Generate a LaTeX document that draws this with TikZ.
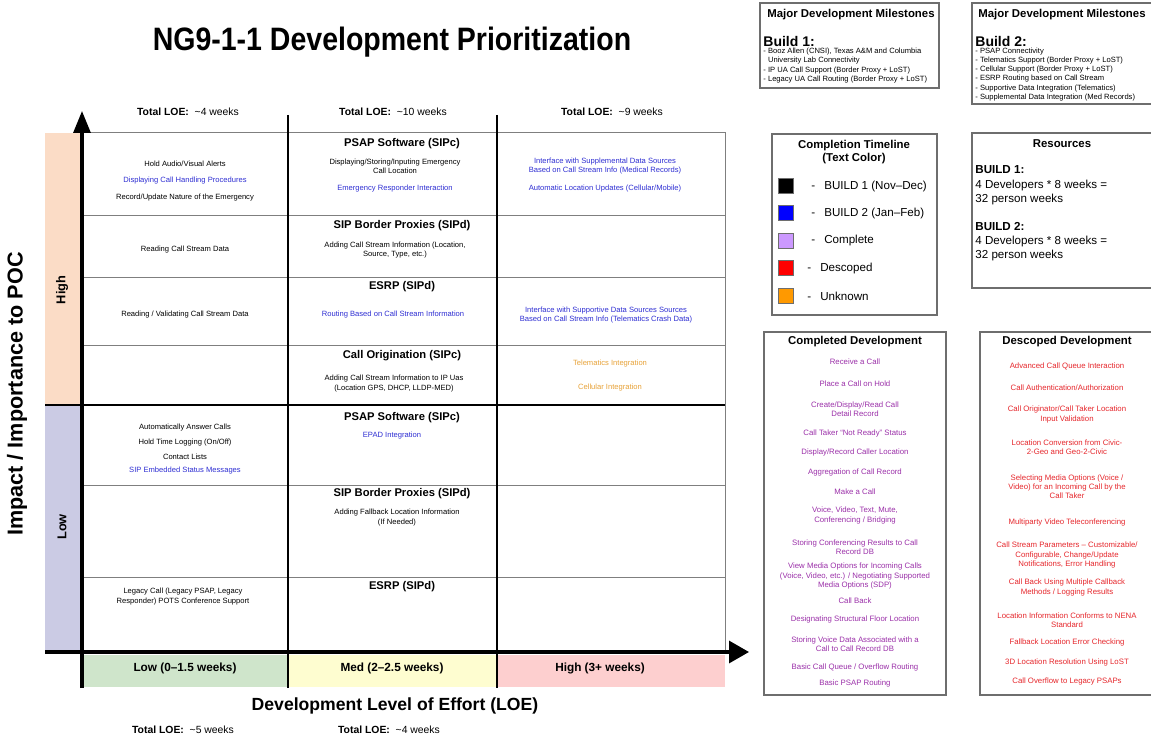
\documentclass[tikz,border=0pt]{standalone}
\usepackage{fontspec}
\setmainfont{Liberation Sans}
\newfontfamily\TitleFam[FakeStretch=0.88]{Liberation Sans}
\usetikzlibrary{arrows.meta}

\newcommand{\TitleF}{\TitleFam\fontsize{16.2pt}{18pt}\selectfont\bfseries}
\newcommand{\AxisF}{\fontsize{8.8pt}{10pt}\selectfont\bfseries}
\newcommand{\LoeF}{\fontsize{5.2pt}{6pt}\selectfont}
\newcommand{\HeadF}{\fontsize{5.6pt}{6.5pt}\selectfont\bfseries}
\newcommand{\CellF}{\fontsize{3.8pt}{4.7pt}\selectfont}
\newcommand{\BarF}{\fontsize{5.9pt}{7pt}\selectfont\bfseries}
\newcommand{\BoxF}{\fontsize{5.7pt}{6.1pt}\selectfont\bfseries}
\newcommand{\KeyF}{\fontsize{5.8pt}{7pt}\selectfont}
\newcommand{\ListF}{\fontsize{3.9pt}{4.6pt}\selectfont}
\newcommand{\Loe}[1]{\textbf{Total LOE:}~~\textasciitilde#1 weeks}

\definecolor{blueTxt}{HTML}{2E2ED2}
\definecolor{purpleTxt}{HTML}{9A2FA8}
\definecolor{redTxt}{HTML}{E5262B}
\definecolor{orangeTxt}{HTML}{E7A238}
\definecolor{highBar}{HTML}{FBDCC6}
\definecolor{lowBar}{HTML}{CBCBE4}
\definecolor{lowLoe}{HTML}{CFE5CB}
\definecolor{medLoe}{HTML}{FEFDD0}
\definecolor{highLoe}{HTML}{FDCFCF}
\definecolor{gridGray}{HTML}{7F7F7F}
\definecolor{frameGray}{HTML}{6E6E6E}
\definecolor{keyBlue}{HTML}{0000FF}
\definecolor{keyLilac}{HTML}{CC99FF}
\definecolor{keyRed}{HTML}{FF0000}
\definecolor{keyOrange}{HTML}{FF9900}

\tikzset{
    >=Stealth,
    txt/.style={inner sep=0pt,align=center,font=\CellF},
    head/.style={inner sep=0pt,font=\HeadF},
    loe/.style={inner sep=0pt,font=\LoeF},
    barlabel/.style={inner sep=0pt,font=\BarF},
    boxtitle/.style={inner sep=0pt,align=center,font=\BoxF},
    keylabel/.style={inner sep=0pt,anchor=west,font=\KeyF},
    reslabel/.style={inner sep=0pt,anchor=west,font=\KeyF},
    mitem/.style={inner sep=0pt,anchor=west,font=\CellF},
    done/.style={inner sep=0pt,align=center,font=\ListF,text=purpleTxt},
    dropped/.style={inner sep=0pt,align=center,font=\ListF,text=redTxt},
    axisline/.style={line width=1.6pt,-{Triangle[length=11pt,width=8.5pt]}},
    divider/.style={line width=1.4pt},
    gridline/.style={draw=gridGray,line width=0.5pt},
    boxframe/.style={draw=frameGray,line width=0.6pt},
    swatch/.style={draw=frameGray,line width=0.4pt},
}

\begin{document}
\begin{tikzpicture}[x=0.5pt,y=-0.5pt]
\useasboundingbox (0,0) rectangle (1151,738);

% title and column totals
\node[inner sep=0pt,anchor=base,font=\TitleF] (title) at (392,51) {NG9-1-1 Development Prioritization};
\node[loe] (loe1) at (188,112) {\Loe{4}};
\node[loe] (loe2) at (393,112) {\Loe{10}};
\node[loe] (loe3) at (612,112) {\Loe{9}};
\node[loe] (loe4) at (183,730) {\Loe{5}};
\node[loe] (loe5) at (389,730) {\Loe{4}};

% side and bottom bands
\fill[highBar] (45,133) rectangle (80,405);
\fill[lowBar] (45,405) rectangle (80,650);
\fill[lowLoe] (82,655) rectangle (288,687);
\fill[medLoe] (288,655) rectangle (497,687);
\fill[highLoe] (497,655) rectangle (725,687);
\node[barlabel,font=\fontsize{6.4pt}{7pt}\selectfont\bfseries,rotate=90] (hi) at (62,290) {High};
\node[barlabel,font=\fontsize{6.4pt}{7pt}\selectfont\bfseries,rotate=90] (lo) at (62,527) {Low};
\node[barlabel] (effLow) at (185,668) {Low (0--1.5 weeks)};
\node[barlabel] (effMed) at (392,668) {Med (2--2.5 weeks)};
\node[barlabel] (effHigh) at (600,668) {High (3+ weeks)};
\node[inner sep=0pt,font=\fontsize{10.8pt}{12pt}\selectfont\bfseries,rotate=90] (ytitle) at (17,394) {Impact / Importance to POC};
\node[inner sep=0pt,font=\AxisF] (xtitle) at (395,706) {Development Level of Effort (LOE)};

% grid
\draw[gridline] (82,133) rectangle (725,650);
\foreach \y in {215,277,345,485,577}
    \draw[gridline] (82,\y) -- (725,\y);
\draw[divider] (288,115) -- (288,688);
\draw[divider] (497,115) -- (497,688);
\draw[divider] (45,405) -- (725,405);

% axes
\coordinate (yBot) at (82,688);
\coordinate (yTop) at (82,111);
\coordinate (xLeft) at (45,652);
\coordinate (xRight) at (749,652);
\draw[axisline] (yBot) -- (yTop);
\draw[axisline,-{Triangle[length=10pt,width=11pt]}] (xLeft) -- (xRight);

% high impact cells
\node[txt] (a1) at (185,164) {Hold Audio/Visual Alerts};
\node[txt,text=blueTxt] (a2) at (185,181) {Displaying Call Handling Procedures};
\node[txt] (a3) at (185,198) {Record/Update Nature of the Emergency};
\node[txt] (a4) at (185,250) {Reading Call Stream Data};
\node[txt] (a5) at (185,315) {Reading / Validating Call Stream Data};

\node[head] (psapA) at (402,144) {PSAP Software (SIPc)};
\node[txt] (b1) at (395,166.5) {Displaying/Storing/Inputing Emergency\\Call Location};
\node[txt,text=blueTxt] (b2) at (395,189) {Emergency Responder Interaction};
\node[head] (sbpA) at (402,226) {SIP Border Proxies (SIPd)};
\node[txt] (b3) at (395,250) {Adding Call Stream Information (Location,\\Source, Type, etc.)};
\node[head] (esrpA) at (402,287) {ESRP (SIPd)};
\node[txt,text=blueTxt] (b4) at (393,315) {Routing Based on Call Stream Information};
\node[head] (coA) at (402,356) {Call Origination (SIPc)};
\node[txt] (b5) at (394,383.5) {Adding Call Stream Information to IP Uas\\(Location GPS, DHCP, LLDP-MED)};

\node[txt,text=blueTxt] (c1) at (605,166) {Interface with Supplemental Data Sources\\Based on Call Stream Info (Medical Records)};
\node[txt,text=blueTxt] (c2) at (605,189) {Automatic Location Updates (Cellular/Mobile)};
\node[txt,text=blueTxt] (c3) at (606,315) {Interface with Supportive Data Sources Sources\\Based on Call Stream Info (Telematics Crash Data)};
\node[txt,text=orangeTxt] (c4) at (610,364) {Telematics Integration};
\node[txt,text=orangeTxt] (c5) at (610,388) {Cellular Integration};

% low impact cells
\node[txt] (d1) at (185,428) {Automatically Answer Calls};
\node[txt] (d2) at (185,443) {Hold Time Logging (On/Off)};
\node[txt] (d3) at (185,457) {Contact Lists};
\node[txt,text=blueTxt] (d4) at (185,471) {SIP Embedded Status Messages};
\node[txt] (d5) at (183,596.5) {Legacy Call (Legacy PSAP, Legacy\\Responder) POTS Conference Support};

\node[head] (psapB) at (402,418) {PSAP Software (SIPc)};
\node[txt,text=blueTxt] (e1) at (392,436) {EPAD Integration};
\node[head] (sbpB) at (402,494) {SIP Border Proxies (SIPd)};
\node[txt] (e2) at (397,517.5) {Adding Fallback Location Information\\(If Needed)};
\node[head] (esrpB) at (402,587) {ESRP (SIPd)};

% milestones
\draw[boxframe] (760,3) rectangle (939,88);
\node[boxtitle] (ms1) at (851,15) {Major Development Milestones};
\node[inner sep=0pt,anchor=west,font=\fontsize{7pt}{8pt}\selectfont\bfseries] (bld1) at (763,41) {Build 1:};
\foreach \y/\t [count=\i] in {52/{- Booz Allen (CNSI), Texas A\&M and Columbia},
        61/{\phantom{- }University Lab Connectivity},
        71/{- IP UA Call Support (Border Proxy + LoST)},
        80/{- Legacy UA Call Routing (Border Proxy + LoST)}}
    \node[mitem] (ma\i) at (763,\y) {\t};

\draw[boxframe] (972,3) rectangle (1160,104);
\node[boxtitle] (ms2) at (1062,15) {Major Development Milestones};
\node[inner sep=0pt,anchor=west,font=\fontsize{7pt}{8pt}\selectfont\bfseries] (bld2) at (975,41) {Build 2:};
\foreach \y/\t [count=\i] in {52/{PSAP Connectivity},
        61/{Telematics Support (Border Proxy + LoST)},
        70/{Cellular Support (Border Proxy + LoST)},
        79/{ESRP Routing based on Call Stream},
        88.5/{Supportive Data Integration (Telematics)},
        98/{Supplemental Data Integration (Med Records)}}
    \node[mitem] (mb\i) at (975,\y) {- \t};

% completion timeline key
\draw[boxframe] (772,134) rectangle (937,315);
\node[boxtitle] (keyt) at (854,152) {Completion Timeline\\(Text Color)};
\foreach \y/\c in {186/black,213/keyBlue,241/keyLilac,268/keyRed,296/keyOrange}
    \draw[swatch,fill=\c] (778,\y-7.5) rectangle (793,\y+7.5);
\node[keylabel] (k1) at (811,186) {-\hspace{4.5pt}BUILD 1 (Nov--Dec)};
\node[keylabel] (k2) at (811,213) {-\hspace{4.5pt}BUILD 2 (Jan--Feb)};
\node[keylabel] (k3) at (811,241) {-\hspace{4.5pt}Complete};
\node[keylabel] (k4) at (807,268) {-\hspace{4.5pt}Descoped};
\node[keylabel] (k5) at (807,296) {-\hspace{4.5pt}Unknown};

% resources
\draw[boxframe] (972,133) rectangle (1160,288);
\node[boxtitle] (rest) at (1062,144) {Resources};
\node[reslabel,font=\KeyF\bfseries] (r1) at (975,170) {BUILD 1:};
\node[reslabel] (r2) at (975,185) {4 Developers * 8 weeks =};
\node[reslabel] (r3) at (975,199) {32 person weeks};
\node[reslabel,font=\KeyF\bfseries] (r4) at (975,227) {BUILD 2:};
\node[reslabel] (r5) at (975,242) {4 Developers * 8 weeks =};
\node[reslabel] (r6) at (975,256) {32 person weeks};

% completed development
\draw[boxframe] (764,332) rectangle (946,695);
\node[boxtitle] (cdt) at (855,342) {Completed Development};
\foreach \y/\t [count=\i] in {362/{Receive a Call},
        384/{Place a Call on Hold},
        409.5/{Create/Display/Read Call\\Detail Record},
        433/{Call Taker “Not Ready” Status},
        452/{Display/Record Caller Location},
        472/{Aggregation of Call Record},
        492/{Make a Call},
        515.5/{Voice, Video, Text, Mute,\\Conferencing / Bridging},
        547.5/{Storing Conferencing Results to Call\\Record DB},
        576/{View Media Options for Incoming Calls\\(Voice, Video, etc.) / Negotiating Supported\\Media Options (SDP)},
        601/{Call Back},
        619/{Designating Structural Floor Location},
        644.5/{Storing Voice Data Associated with a\\Call to Call Record DB},
        667/{Basic Call Queue / Overflow Routing},
        683/{Basic PSAP Routing}}
    \node[done] (cd\i) at (855,\y) {\t};

% descoped development
\draw[boxframe] (980,332) rectangle (1160,695);
\node[boxtitle] (ddt) at (1067,342) {Descoped Development};
\foreach \y/\t [count=\i] in {366/{Advanced Call Queue Interaction},
        388/{Call Authentication/Authorization},
        414.5/{Call Originator/Call Taker Location\\Input Validation},
        447.5/{Location Conversion from Civic-\\2-Geo and Geo-2-Civic},
        487/{Selecting Media Options (Voice /\\Video) for an Incoming Call by the\\Call Taker},
        522/{Multiparty Video Teleconferencing},
        555/{Call Stream Parameters -- Customizable/\\Configurable, Change/Update\\Notifications, Error Handling},
        587.5/{Call Back Using Multiple Callback\\Methods / Logging Results},
        620.5/{Location Information Conforms to NENA\\Standard},
        642/{Fallback Location Error Checking},
        662/{3D Location Resolution Using LoST},
        681/{Call Overflow to Legacy PSAPs}}
    \node[dropped] (dd\i) at (1067,\y) {\t};

\end{tikzpicture}
\end{document}
